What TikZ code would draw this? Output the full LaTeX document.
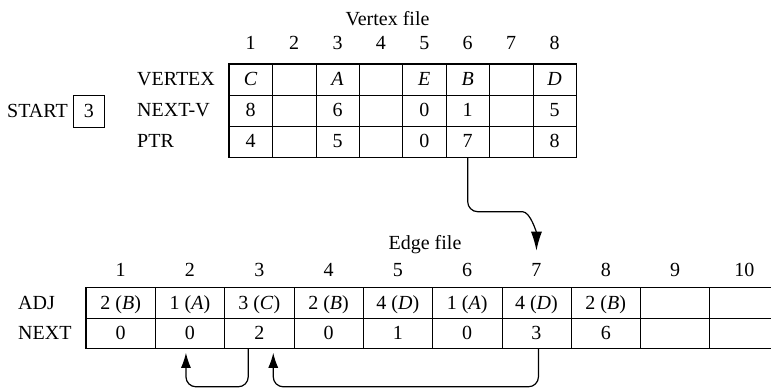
\documentclass[tikz,border=0pt]{standalone}
\usepackage{fontspec}
\setmainfont{Liberation Serif}
\usetikzlibrary{calc,positioning,arrows.meta}

\begin{document}
\begin{tikzpicture}[x=1pt, y=1pt, font=\fontsize{20}{24}\selectfont,
                       vcell/.style={draw, line width=0.6pt, minimum width=43.4pt, minimum height=31pt, inner sep=0pt, text height=13pt, text depth=0pt},
                       ecell/.style={draw, line width=0.6pt, minimum width=69.3pt, minimum height=30.5pt, inner sep=0pt, text height=13pt, text depth=0pt},
                       rowlab/.style={anchor=west, inner sep=0pt, text height=13pt, text depth=0pt},
                       colnum/.style={anchor=base, inner sep=0pt},
                       frame/.style={draw, line width=1.3pt},
                       link/.style={-{Latex[length=15pt, width=10pt]}, line width=1.2pt, rounded corners=10pt}]
        \clip (0,0) rectangle (771,390);
        % Vertex file
        \node[anchor=base] (vfile) at (387.5,364) {Vertex file};
        \foreach \c/\v/\n/\p in {1/C/8/4, 2///, 3/A/6/5, 4///, 5/E/0/0, 6/B/1/7, 7///, 8/D/5/8} {
            \node[colnum] (vn\c) at ({229+43.4*(\c-0.5)},340) {\c};
            \node[vcell] (vert\c) at ({229+43.4*(\c-0.5)},310.5) {\textit{\v}};
            \node[vcell] (nextv\c) at ({229+43.4*(\c-0.5)},279.5) {\n};
            \node[vcell] (ptr\c) at ({229+43.4*(\c-0.5)},248.5) {\p};
        }
        \draw[frame] (vert1.north west) rectangle (ptr8.south east);
        \node[rowlab] (lvert) at (137,310.5) {VERTEX};
        \node[rowlab] (lnextv) at (137,279.5) {NEXT-V};
        \node[rowlab] (lptr) at (137,248.5) {PTR};
        % START
        \node[rowlab] (start) at (7,279) {START};
        \node[draw, line width=0.9pt, minimum width=31pt, minimum height=32pt, inner sep=0pt, text height=13pt, text depth=0pt, right=5pt of start] (startval) {3};
        % Edge file
        \node[anchor=base] (efile) at (425,140) {Edge file};
        \foreach \c/\k/\l/\n in {1/2/B/0, 2/1/A/0, 3/3/C/2, 4/2/B/0, 5/4/D/1, 6/1/A/0, 7/4/D/3, 8/2/B/6} {
            \node[colnum] (en\c) at ({86+69.3*(\c-0.5)},113) {\c};
            \node[ecell] (adj\c) at ({86+69.3*(\c-0.5)},87.25) {\k\ (\textit{\l})};
            \node[ecell] (next\c) at ({86+69.3*(\c-0.5)},56.75) {\n};
        }
        \foreach \c in {9,10} {
            \node[colnum] (en\c) at ({86+69.3*(\c-0.5)},113) {\c};
            \node[ecell] (adj\c) at ({86+69.3*(\c-0.5)},87.25) {};
            \node[ecell] (next\c) at ({86+69.3*(\c-0.5)},56.75) {};
        }
        \draw[frame] (adj1.north west) rectangle (next10.south east);
        \node[rowlab] (ladj) at (18,87.25) {ADJ};
        \node[rowlab] (lnext) at (18,56.75) {NEXT};
        % Links
        \coordinate (tip7) at ($(en7.north)+(0,13)$);
        \draw[link, -{Latex[length=19pt, width=11pt]}] (ptr6.south) |- ($(tip7)+(-24,39)$) to[out=0, in=90] (tip7);
        \draw[link] ($(next3.south)+(-11,0)$) -- ++(0,-38) -| ($(next2.south)+(-4,-4)$);
        \draw[link] ($(next7.south)+(2,0)$) -- ++(0,-38) -| ($(next3.south)+(14,-4)$);
    \end{tikzpicture}
\end{document}
